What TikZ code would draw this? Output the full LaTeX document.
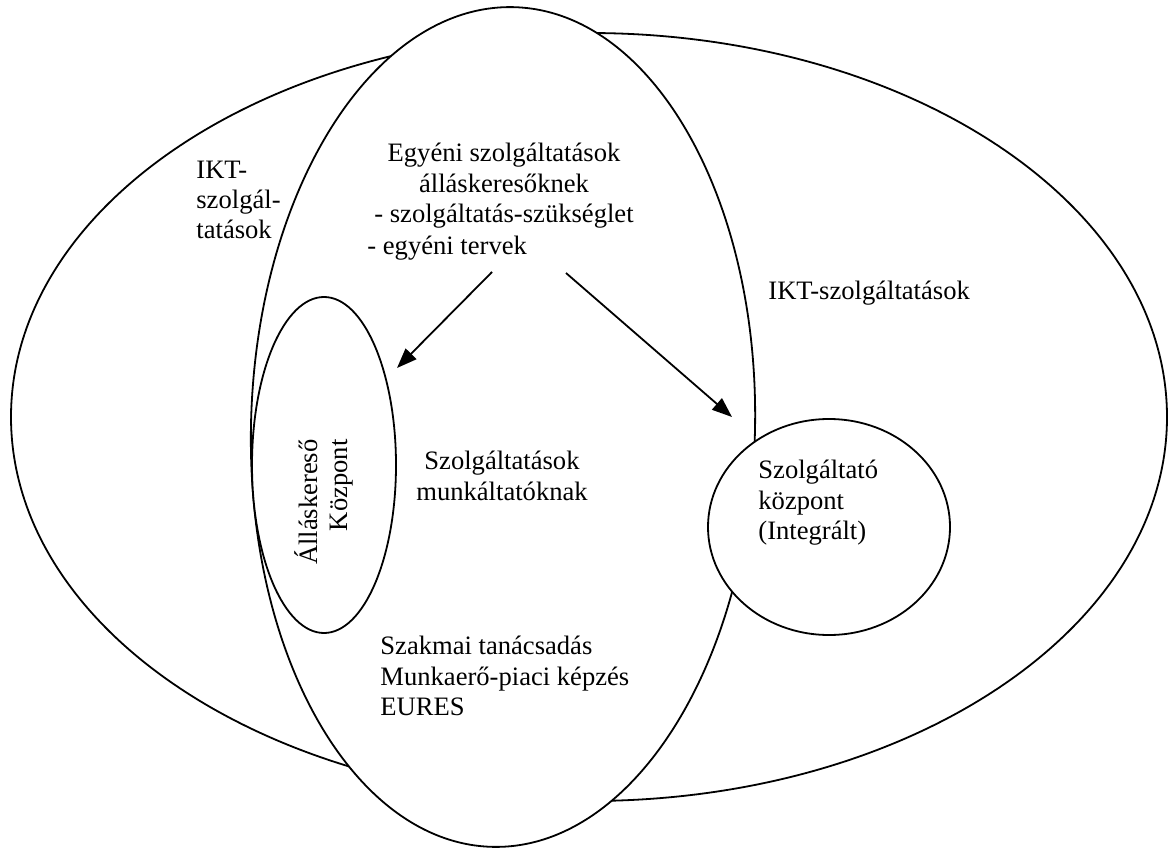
\documentclass[tikz,border=0pt]{standalone}
\usepackage{fontspec}
\setmainfont{Liberation Serif}
\usetikzlibrary{shapes.geometric,arrows.meta}
\tikzset{
  ring/.style={draw,fill=white,ellipse,line width=0.9pt,inner sep=0pt},
  lbl/.style={inner sep=0pt,font=\fontsize{13.3}{15.2}\selectfont},
  arr/.style={line width=0.9pt,-{Triangle[length=10pt,width=7.5pt]}}
}

\begin{document}
\begin{tikzpicture}[x=0.5pt,y=-0.5pt]
\useasboundingbox (0,0) rectangle (1172,850);
\node[ring,minimum width=578pt,minimum height=384pt] (ikt) at (589,417) {};
\node[ring,minimum width=252pt,minimum height=420pt,rotate=-1.5] (office) at (503,427) {};
\node[ring,minimum width=72pt,minimum height=168pt] (seeker) at (324,465) {};
\node[ring,minimum width=121pt,minimum height=108pt] (service) at (829,527) {};

\node[lbl,anchor=west,align=left] (iktleft) at (196,200) {IKT-\\szolgál-\\tatások};
\node[lbl,anchor=west] (iktright) at (768,293) {IKT-szolgáltatások};
\node[lbl,align=center] (indiv) at (504,186) {Egyéni szolgáltatások\\álláskeresőknek\\ - szolgáltatás-szükséglet};
\node[lbl,anchor=west] (plans) at (367,248) {- egyéni tervek};
\node[lbl,rotate=90,anchor=east,align=right] (seekertext) at (324,439) {Álláskereső\\Központ};
\node[lbl,align=center] (employers) at (502,476) {Szolgáltatások\\munkáltatóknak};
\node[lbl,anchor=west,align=left] (other) at (380,676) {Szakmai tanácsadás\\Munkaerő-piaci képzés\\EURES};
\node[lbl,anchor=west,align=left] (servicetext) at (758,503) {Szolgáltató\\központ\\(Integrált)};

\coordinate (from1) at (492,272);
\coordinate (to1) at (397,368);
\coordinate (from2) at (566,273);
\coordinate (to2) at (732,417);
\draw[arr] (from1) -- (to1);
\draw[arr] (from2) -- (to2);
\end{tikzpicture}
\end{document}
